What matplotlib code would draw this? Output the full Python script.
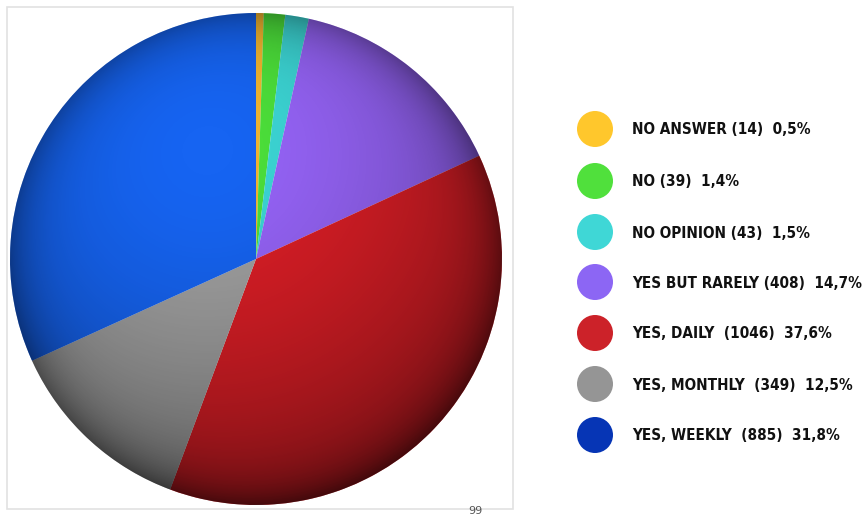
#!/usr/bin/env python3
import numpy as np
import matplotlib
matplotlib.use("Agg")
import matplotlib.pyplot as plt
from matplotlib.patches import Circle, Rectangle

# Survey answers (counts and shares as printed in the legend)
labels = ["NO ANSWER (14)  0,5%", "NO (39)  1,4%", "NO OPINION (43)  1,5%",
          "YES BUT RARELY (408)  14,7%", "YES, DAILY  (1046)  37,6%",
          "YES, MONTHLY  (349)  12,5%", "YES, WEEKLY  (885)  31,8%"]
counts = [14, 39, 43, 408, 1046, 349, 885]
slice_colors = ["#F2B530", "#4CDF3A", "#3CD5D4", "#9563F6", "#DA1E26", "#A0A0A0", "#1664F2"]
legend_colors = ["#FFC72C", "#50E03C", "#3FD7D6", "#8C66F4", "#CC2229", "#959595", "#0635B5"]

W, H = 867, 518
fig = plt.figure(figsize=(W / 100, H / 100), dpi=100)
fig.patch.set_facecolor("white")

# overlay axes in pixel units (y downwards) for frame + legend
ov = fig.add_axes([0, 0, 1, 1])
ov.set_xlim(0, W)
ov.set_ylim(H, 0)
ov.axis("off")
ov.add_patch(Rectangle((7, 7), 506, 502, fill=False, edgecolor="#E2E2E2", linewidth=1.2))

# pie axes (pixel placement)
cx, cy, r = 256, 259, 246
ax = fig.add_axes([(cx - r) / W, (H - cy - r) / H, 2 * r / W, 2 * r / H])
wedges, _ = ax.pie(counts, colors=slice_colors, startangle=90, counterclock=False,
                   radius=1, wedgeprops=dict(linewidth=0))
ax.set_xlim(-1, 1)
ax.set_ylim(-1, 1)
ax.set_aspect("equal")
ax.axis("off")

# fake 3D shading: dark toward lower right and rim
n = 400
gx, gy = np.meshgrid(np.linspace(-1, 1, n), np.linspace(1, -1, n))
d = np.hypot(gx + 0.2, gy - 0.45)
rr = np.hypot(gx, gy)
alpha = np.clip(0.45 * (d / 1.5) ** 1.8 + 0.25 * rr ** 10, 0, 0.72)
shade = np.zeros((n, n, 4))
shade[..., 3] = alpha
img = ax.imshow(shade, extent=(-1, 1, -1, 1), zorder=3, interpolation="bilinear")
img.set_clip_path(Circle((0, 0), 1, transform=ax.transData))

# legend
legend_y = [129, 181, 232, 282, 333, 384, 435]
for lab, col, y in zip(labels, legend_colors, legend_y):
    ov.add_patch(Circle((595, y), 18, facecolor=col, edgecolor="none"))
    ov.text(632, y + 1, lab, fontsize=11, fontweight="bold", family="DejaVu Sans",
            fontstretch="condensed", color="#111111", ha="left", va="center")

ov.text(475, 511, "99", fontsize=8, color="#555555", ha="center", va="center")

plt.savefig("out.png", dpi=100)
plt.close()
